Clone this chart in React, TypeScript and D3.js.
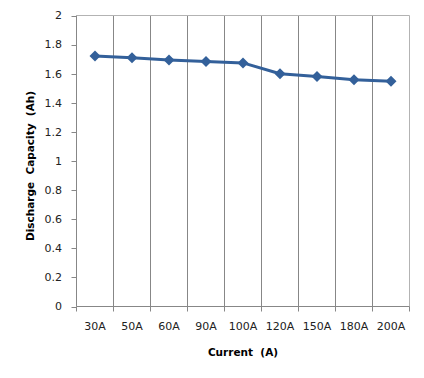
import React from "react";
import * as d3 from "d3";

const categories = ["30A", "50A", "60A", "90A", "100A", "120A", "150A", "180A", "200A"];
const capacity = [1.722, 1.71, 1.694, 1.683, 1.674, 1.6, 1.58, 1.559, 1.548];
const yTicks = [0, 0.2, 0.4, 0.6, 0.8, 1, 1.2, 1.4, 1.6, 1.8, 2];
const xTitle = "Current  (A)";
const yTitle = "Discharge  Capacity  (Ah)";

const W = 424;
const H = 378;
const left = 76.5;
const right = 409.5;
const top = 15.5;
const bottom = 306.5;
const font = "'DejaVu Sans', sans-serif";
const lineColor = "#33609a";

export default function App() {
  const x = d3.scaleBand<string>().domain(categories).range([left, right]).padding(0);
  const y = d3.scaleLinear().domain([0, 2]).range([bottom, top]);
  const line = d3
    .line<number>()
    .x((_, i) => (x(categories[i]) as number) + x.bandwidth() / 2)
    .y((d) => y(d));
  const r = 5.5;
  const diamond = `M0,${-r}L${r},0L0,${r}L${-r},0Z`;
  const boundaries = categories.map((c) => x(c) as number).concat([right]);

  return (
    <svg width={W} height={H} style={{ position: "absolute", left: 0, top: 0 }}>
      <rect x={0} y={0} width={W} height={H} fill="#fff" />
      {boundaries.slice(1, -1).map((bx, i) => (
        <line key={i} x1={bx} x2={bx} y1={top} y2={bottom} stroke="#878787" strokeWidth={1} />
      ))}
      <line x1={left} x2={right} y1={top} y2={top} stroke="#b3b3b3" strokeWidth={1} />
      <line x1={right} x2={right} y1={top} y2={bottom} stroke="#b3b3b3" strokeWidth={1} />
      <line x1={left} x2={left} y1={top} y2={bottom} stroke="#878787" strokeWidth={1} />
      {yTicks.map((t) => (
        <g key={t}>
          <line x1={left - 5} x2={left} y1={Math.round(y(t)) + 0.5} y2={Math.round(y(t)) + 0.5} stroke="#878787" />
          <text x={62} y={y(t)} dy="0.35em" textAnchor="end" fontFamily={font} fontSize={11} fill="#222">
            {String(t)}
          </text>
        </g>
      ))}
      <line x1={left} x2={right} y1={bottom} y2={bottom} stroke="#878787" strokeWidth={1} />
      {boundaries.map((bx, i) => (
        <line key={i} x1={bx} x2={bx} y1={bottom} y2={bottom + 5} stroke="#878787" />
      ))}
      {categories.map((c) => (
        <text
          key={c}
          x={(x(c) as number) + x.bandwidth() / 2}
          y={330}
          textAnchor="middle"
          fontFamily={font}
          fontSize={11}
          fill="#222"
        >
          {c}
        </text>
      ))}
      <path d={line(capacity) || ""} fill="none" stroke={lineColor} strokeWidth={3} strokeLinejoin="round" />
      {capacity.map((v, i) => (
        <path
          key={i}
          d={diamond}
          transform={`translate(${(x(categories[i]) as number) + x.bandwidth() / 2},${y(v)})`}
          fill={lineColor}
        />
      ))}
      <text
        x={243}
        y={356}
        textAnchor="middle"
        fontFamily={font}
        fontSize={10.5}
        fontWeight="bold"
        fill="#000"
        style={{ whiteSpace: "pre" }}
      >
        {xTitle}
      </text>
      <text
        transform={`translate(34,166) rotate(-90)`}
        textAnchor="middle"
        fontFamily={font}
        fontSize={10.5}
        fontWeight="bold"
        fill="#000"
        style={{ whiteSpace: "pre" }}
      >
        {yTitle}
      </text>
    </svg>
  );
}
